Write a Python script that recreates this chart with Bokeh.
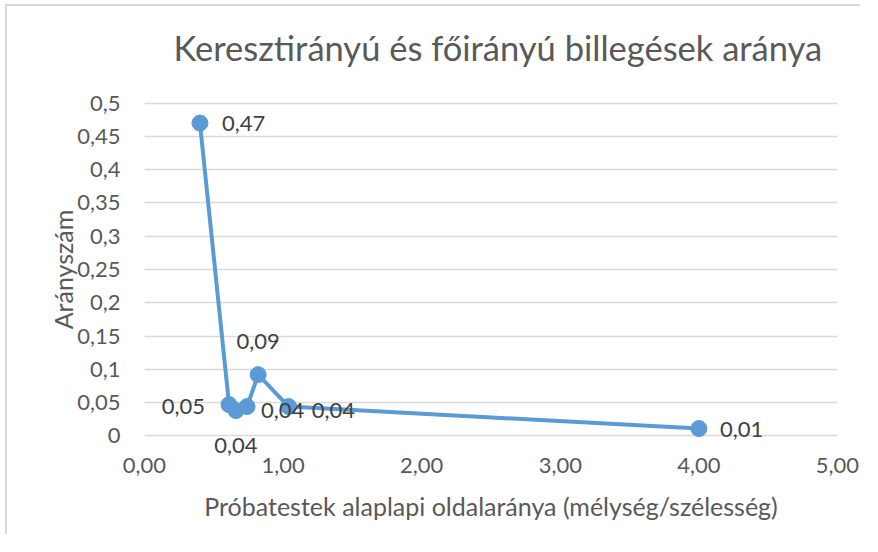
from bokeh.plotting import figure
from bokeh.models import Range1d, FixedTicker, ColumnDataSource, Title
from bokeh.core.properties import value
from bokeh.embed import file_html
from bokeh.resources import INLINE

# ---- data ----
ratio_x = [0.40, 0.61, 0.66, 0.74, 0.82, 1.04, 4.00]
ratio_y = [0.47, 0.047, 0.038, 0.044, 0.092, 0.044, 0.011]

y_ticks = [0, 0.05, 0.1, 0.15, 0.2, 0.25, 0.3, 0.35, 0.4, 0.45, 0.5]
y_tick_labels = ["0", "0,05", "0,1", "0,15", "0,2", "0,25", "0,3", "0,35", "0,4", "0,45", "0,5"]
x_ticks = [0, 1, 2, 3, 4, 5]
x_tick_labels = ["0,00", "1,00", "2,00", "3,00", "4,00", "5,00"]

title_text = "Keresztirányú és főirányú billegések aránya"
x_title = "Próbatestek alaplapi oldalaránya (mélység/szélesség)"
y_title = "Arányszám"

# ---- styles for data labels (screen offsets, alignment) ----
label_dx = [22, -24, 0, 14, 0, 23, 21]
label_dy = [0, 2, 35, 4, -33, 4, 1]
label_align = ["left", "right", "center", "left", "center", "left", "left"]

FONT = "Lato"
BLUE = "#5b9bd5"
GREY = "#595959"

p = figure(width=855, height=530, output_backend="svg", toolbar_location=None,
           x_range=Range1d(0, 5), y_range=Range1d(-0.04, 0.54),
           min_border_left=137, min_border_right=25, min_border_top=70, min_border_bottom=74)
p.styles = {"margin-left": "5px", "margin-top": "4px",
            "border-top": "2px solid #d9d9d9", "border-left": "2px solid #d9d9d9"}

t = Title(text=title_text, align="left", text_font=FONT, text_font_size="34.5px",
          text_color=GREY, text_font_style="normal", standoff=18, offset=29)
p.add_layout(t, "above")

p.outline_line_color = None
p.background_fill_color = "white"
p.border_fill_color = "white"

p.xgrid.grid_line_color = None
p.ygrid.ticker = FixedTicker(ticks=y_ticks)
p.ygrid.grid_line_color = "#d9d9d9"
p.ygrid.grid_line_width = 1.5

p.yaxis.ticker = FixedTicker(ticks=y_ticks)
p.yaxis.major_label_overrides = {t_: l for t_, l in zip(y_ticks, y_tick_labels)}
p.xaxis.ticker = FixedTicker(ticks=x_ticks)
p.xaxis.major_label_overrides = {t_: l for t_, l in zip(x_ticks, x_tick_labels)}

for ax in (p.xaxis, p.yaxis):
    ax.axis_line_color = None
    ax.major_tick_line_color = None
    ax.minor_tick_line_color = None
    ax.major_tick_out = 0
    ax.minor_tick_out = 0
    ax.major_label_text_font = FONT
    ax.major_label_text_font_size = "22px"
    ax.major_label_text_color = GREY
    ax.axis_label_text_font = FONT
    ax.axis_label_text_font_size = "25px"
    ax.axis_label_text_color = GREY
    ax.axis_label_text_font_style = "normal"

p.yaxis.major_label_standoff = 24
p.xaxis.major_label_standoff = -5
p.xaxis.axis_label = x_title
p.yaxis.axis_label = y_title
p.xaxis.axis_label_standoff = 15
p.yaxis.axis_label_standoff = -4

p.line(ratio_x, ratio_y, line_color=BLUE, line_width=4)
p.scatter(ratio_x, ratio_y, size=16, fill_color=BLUE, line_color=BLUE)

# data labels
src = ColumnDataSource(dict(
    x=ratio_x, y=ratio_y,
    txt=[f"{v:.2f}".replace(".", ",") for v in ratio_y],
    xo=label_dx, yo=label_dy, al=label_align,
))
p.text(x="x", y="y", text="txt", source=src, x_offset="xo", y_offset="yo",
       text_align="al", text_baseline="middle", text_font=value(FONT),
       text_font_size="22px", text_color="#404040")

open("out.html", "w").write(file_html(p, INLINE))
